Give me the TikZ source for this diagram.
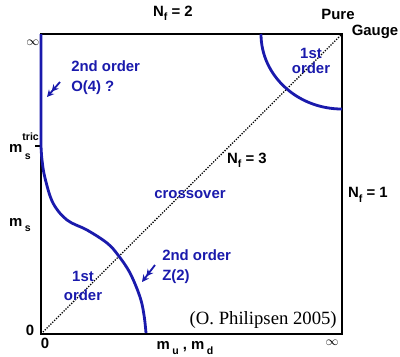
\documentclass[tikz,border=0pt]{standalone}
\usepackage{fontspec}
\setmainfont{Liberation Sans}
\newfontfamily\citefont{Liberation Serif}
\usepackage{tikz}
\usetikzlibrary{arrows.meta}
\definecolor{PhBlue}{RGB}{26,26,172}
\tikzset{
  lbl/.style={font=\bfseries\fontsize{10.6}{12}\selectfont, inner sep=0pt},
  bluelbl/.style={lbl, text=PhBlue},
  critline/.style={draw=PhBlue, line width=2pt},
  hint/.style={draw=PhBlue, line width=1.3pt, -{Stealth[length=5pt,width=5pt]Stealth[length=5pt,width=5pt]}}
}
\newcommand{\sub}[1]{\raisebox{-0.55ex}{\fontsize{7.5}{8}\selectfont #1}}
\begin{document}
\begin{tikzpicture}[x=0.025cm, y=-0.025cm]
  \useasboundingbox (0,0) rectangle (400,356);
  % corners of the Columbia plot
  \coordinate (bl) at (41,334);
  \coordinate (tr) at (342,34);
  \coordinate (tric) at (41,146);
  \draw[line width=2.1pt] (bl) rectangle (tr);
  \draw[line width=0.9pt, densely dotted] (bl) -- (tr);
  \draw[line width=2.1pt] (tric) -- ++(-6,0);
  % critical lines
  \draw[critline] (41,34) -- (tric)
    plot[smooth, tension=0.6] coordinates {(41,146) (42,160) (45,178) (53,203) (67,220) (87,230) (107,243) (118,255) (130,273) (140,297) (144,315) (146,333)};
  \draw[critline] (261,34) arc[start angle=180, end angle=270, x radius=2.025cm, y radius=1.875cm];
  % labels
  \node[lbl] (nf2) at (173,13) {N\sub{f} = 2};
  \node[lbl] (pure) at (338,14) {Pure};
  \node[lbl] (gauge) at (375,32) {Gauge};
  \node[inner sep=0pt, font=\small] (inftop) at (33,43) {$\infty$};
  \node[bluelbl, anchor=west] (ord2a) at (71,66) {2nd order};
  \node[bluelbl, anchor=west] (o4) at (71,88) {O(4) ?};
  \node[lbl] (mstric) at (20,146) {m\rlap{\raisebox{1.5ex}{\fontsize{7.5}{8}\selectfont tric}}\,\raisebox{-0.9ex}{\fontsize{7.5}{8}\selectfont s}};
  \node[bluelbl, align=center] (ord1a) at (311,61) {1st\\[-1pt]order};
  \node[lbl] (nf3) at (247,160) {N\sub{f} = 3};
  \node[bluelbl] (cross) at (190,195) {crossover};
  \node[lbl] (nf1) at (368,195) {N\sub{f} = 1};
  \node[lbl] (ms) at (20,225) {m\,\sub{s}};
  \node[bluelbl, anchor=west] (ord2b) at (162,255) {2nd order};
  \node[bluelbl, anchor=west] (z2) at (162,277) {Z(2)};
  \node[bluelbl, align=center] (ord1b) at (83,286) {1st\\[1pt]order};
  \node[lbl] (zeroy) at (30,330) {0};
  \node[lbl] (zerox) at (45,343) {0};
  \node[lbl] (mumd) at (185,348) {m\,\sub{u} , m\,\sub{d}};
  \node[inner sep=0pt, font=\small] (infbot) at (332,343) {$\infty$};
  \node[inner sep=0pt, anchor=east, font=\citefont\fontsize{13.3}{15}\selectfont] (cite) at (337,320) {(O. Philipsen 2005)};
  % pointers to the lines
  \coordinate (o4tip) at (47,97);
  \coordinate (z2tip) at (142,282);
  \draw[hint] (o4.west) ++(-11,-6) coordinate (o4tail) (o4tail) -- (o4tip);
  \draw[hint] (z2.west) ++(-7,-12) coordinate (z2tail) (z2tail) -- (z2tip);
\end{tikzpicture}
\end{document}
